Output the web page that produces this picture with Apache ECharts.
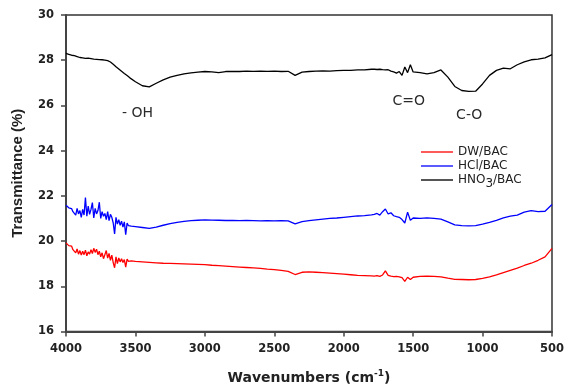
<!DOCTYPE html>
<html>
<head>
<meta charset="utf-8">
<script src="https://cdn.jsdelivr.net/npm/echarts@6/dist/echarts.min.js"></script>
<style>
html,body{margin:0;padding:0;background:#fff;}
#chart{width:567px;height:390px;}
</style>
</head>
<body>
<div id="chart"></div>
<script>
// Wavenumbers (cm-1) shared by all three spectra
var wavenumbers = [
  4000,3990,3980,3970,3960,3950,3940,3930,3920,3910,3900,3890,3880,3870,3860,3850,
  3840,3830,3820,3810,3800,3790,3780,3770,3760,3750,3740,3730,3720,3710,3700,3690,
  3680,3670,3660,3650,3640,3630,3620,3610,3600,3590,3580,3570,3560,3550,3540,3530,
  3500,3450,3400,3350,3300,3250,3200,3150,3100,3050,3000,2950,2900,2850,2800,2750,
  2700,2650,2600,2550,2500,2450,2400,2350,2300,2250,2200,2150,2100,2050,2000,1950,
  1900,1850,1800,
  1780,1760,1740,1720,1700,1680,1660,1640,1620,1600,1580,1560,1540,1520,1500,
  1450,1400,1350,1300,1250,1200,1150,1100,1050,1000,950,900,850,800,750,700,650,600,550,500
];

var dwBac = [
  19.92,19.88,19.80,19.75,19.78,19.62,19.70,19.48,19.65,19.42,19.58,19.38,19.55,19.40,19.60,19.35,
  19.52,19.42,19.62,19.45,19.68,19.50,19.64,19.40,19.55,19.30,19.48,19.22,19.40,19.58,19.25,19.45,
  19.15,19.38,19.05,18.82,19.30,19.00,19.25,19.08,19.22,19.05,19.18,18.85,19.20,19.10,19.16,19.12,
  19.10,19.08,19.06,19.04,19.02,19.01,19.00,18.99,18.98,18.97,18.96,18.93,18.91,18.89,18.87,18.85,
  18.83,18.81,18.79,18.76,18.74,18.70,18.66,18.52,18.62,18.64,18.62,18.60,18.58,18.56,18.54,18.51,
  18.48,18.47,18.46,
  18.45,18.47,18.44,18.50,18.68,18.48,18.45,18.43,18.44,18.42,18.38,18.22,18.40,18.30,18.40,
  18.44,18.45,18.44,18.42,18.36,18.31,18.30,18.29,18.30,18.35,18.42,18.50,18.60,18.70,18.80,18.92,19.02,19.15,19.30,19.68
];

var hclBac = [
  21.58,21.52,21.47,21.40,21.44,21.30,21.38,21.15,21.45,21.20,21.35,21.05,21.40,21.15,21.92,21.10,
  21.55,21.18,21.40,21.70,21.02,21.45,21.20,21.35,21.72,21.00,21.30,21.10,21.22,20.95,21.30,20.90,
  21.18,21.05,20.80,20.32,21.05,20.75,20.95,20.70,20.88,20.62,20.85,20.28,20.80,20.68,20.75,20.66,
  20.64,20.60,20.56,20.62,20.70,20.77,20.83,20.87,20.90,20.92,20.94,20.93,20.92,20.91,20.91,20.90,
  20.91,20.90,20.89,20.90,20.89,20.90,20.89,20.76,20.86,20.90,20.94,20.97,21.00,21.02,21.05,21.08,
  21.11,21.13,21.16,
  21.18,21.22,21.15,21.30,21.42,21.20,21.25,21.12,21.08,21.05,20.95,20.80,21.28,20.92,21.02,
  21.00,21.03,21.00,20.97,20.85,20.72,20.68,20.67,20.68,20.75,20.83,20.92,21.03,21.10,21.15,21.28,21.35,21.30,21.32,21.62
];

var hno3Bac = [
  28.30,28.28,28.26,28.27,28.22,28.24,28.20,28.21,28.16,28.18,28.12,28.15,28.10,28.13,28.08,28.11,
  28.09,28.10,28.07,28.09,28.05,28.07,28.04,28.08,28.03,28.06,28.02,28.04,28.00,28.01,27.98,27.96,
  27.92,27.87,27.82,27.76,27.71,27.66,27.61,27.56,27.51,27.46,27.41,27.37,27.32,27.27,27.22,27.18,
  27.05,26.87,26.82,26.98,27.13,27.25,27.33,27.40,27.44,27.47,27.50,27.48,27.45,27.50,27.51,27.50,
  27.52,27.51,27.52,27.51,27.52,27.50,27.51,27.33,27.47,27.50,27.52,27.53,27.52,27.54,27.55,27.55,
  27.57,27.57,27.60,
  27.60,27.59,27.60,27.58,27.57,27.58,27.52,27.48,27.43,27.50,27.33,27.70,27.45,27.80,27.48,
  27.45,27.40,27.45,27.57,27.25,26.84,26.66,26.62,26.63,26.95,27.33,27.55,27.65,27.62,27.80,27.93,28.02,28.05,28.10,28.25
];

var seriesNames = ['DW/BAC', 'HCl/BAC', 'HNO3/BAC'];
var seriesColors = ['#ff0000', '#0000ff', '#000000'];
var legendColors = ['#ff5a5a', '#5a5aff', '#555555'];

// Band labels: text with the (wavenumber, transmittance) where it sits
var bandLabels = [
  { text: '- OH', wn: 3485, val: 25.64 },
  { text: 'C=O', wn: 1532, val: 26.17 },
  { text: 'C-O', wn: 1096, val: 25.55 }
];

var yTicks = { min: 16, max: 30, interval: 2 };
var xTicks = { min: 500, max: 4000, interval: 500 };

function zip(xs, ys) {
  return xs.map(function (x, i) { return [x, ys[i]]; });
}

var valueSets = [dwBac, hclBac, hno3Bac];

var series = valueSets.map(function (vals, i) {
  var s = {
    name: seriesNames[i],
    type: 'line',
    data: zip(wavenumbers, vals),
    symbol: 'none',
    color: legendColors[i],
    lineStyle: { width: 1.3, color: seriesColors[i] },
    animation: false
  };
  if (i === 2) {
    s.markPoint = {
      symbol: 'rect',
      symbolSize: 1,
      itemStyle: { color: 'rgba(0,0,0,0)' },
      silent: true,
      animation: false,
      label: {
        show: true,
        position: 'inside',
        color: '#2a2a2a',
        fontFamily: 'DejaVu Sans',
        fontSize: 14,
        formatter: function (p) { return p.name; }
      },
      data: bandLabels.map(function (b) {
        return { name: b.text, coord: [b.wn, b.val] };
      })
    };
  }
  return s;
});

var chart = echarts.init(document.getElementById('chart'), null, { renderer: 'canvas' });
chart.setOption({
  backgroundColor: '#ffffff',
  animation: false,
  grid: {
    left: 66, right: 12, top: 15, bottom: 57,
    show: true, borderColor: '#333', borderWidth: 1.5, backgroundColor: 'transparent'
  },
  legend: {
    orient: 'vertical',
    left: 416,
    top: 141,
    icon: 'rect',
    itemWidth: 32,
    itemHeight: 2,
    itemGap: 2,
    data: seriesNames,
    formatter: function (name) {
      return name === 'HNO3/BAC' ? 'HNO{sub|3}/BAC' : name;
    },
    textStyle: {
      fontFamily: 'DejaVu Sans',
      fontSize: 12,
      color: '#222',
      rich: {
        sub: { fontFamily: 'DejaVu Sans', fontSize: 12, color: '#222', verticalAlign: 'bottom', padding: [7, 0, 0, 0] }
      }
    }
  },
  xAxis: {
    type: 'value',
    inverse: true,
    min: xTicks.min,
    max: xTicks.max,
    interval: xTicks.interval,
    name: 'Wavenumbers (cm{sup|-1})',
    nameLocation: 'middle',
    nameGap: 38,
    nameTextStyle: {
      fontFamily: 'DejaVu Sans',
      fontWeight: 'bold',
      fontSize: 14,
      color: '#222',
      rich: {
        sup: { fontFamily: 'DejaVu Sans', fontWeight: 'bold', fontSize: 9, color: '#222', verticalAlign: 'top', padding: [0, 0, 8, 0] }
      }
    },
    splitLine: { show: false },
    axisLine: { show: true, onZero: false, lineStyle: { color: '#444', width: 2 } },
    axisTick: { show: true, inside: false, length: 5, lineStyle: { color: '#444', width: 1.5 } },
    axisLabel: {
      fontFamily: 'DejaVu Sans', fontWeight: 'bold', fontSize: 11.5, color: '#222', margin: 12,
      formatter: function (v) { return String(v); }
    }
  },
  yAxis: {
    type: 'value',
    min: yTicks.min,
    max: yTicks.max,
    interval: yTicks.interval,
    name: 'Transmittance (%)',
    nameLocation: 'middle',
    nameGap: 41,
    nameRotate: 90,
    nameTextStyle: {
      fontFamily: 'Liberation Sans',
      fontWeight: 'bold',
      fontSize: 15,
      color: '#222',
      padding: [0, 0, 0, 0]
    },
    splitLine: { show: false },
    axisLine: { show: true, onZero: false, lineStyle: { color: '#444', width: 2 } },
    axisTick: { show: true, inside: false, length: 5, lineStyle: { color: '#444', width: 1.5 } },
    axisLabel: {
      fontFamily: 'DejaVu Sans', fontWeight: 'bold', fontSize: 11.5, color: '#222', margin: 12,
      formatter: function (v) { return String(v); }
    }
  },
  series: series
});
</script>
</body>
</html>
